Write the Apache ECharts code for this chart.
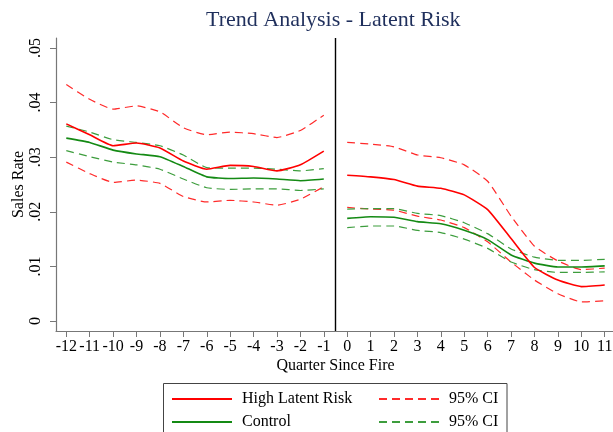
<!DOCTYPE html>
<html>
<head>
<meta charset="utf-8">
<script src="https://cdn.jsdelivr.net/npm/echarts@6/dist/echarts.min.js"></script>
<style>
  html, body { margin: 0; padding: 0; background: #fff; }
  #chart { width: 613px; height: 432px; }
</style>
</head>
<body>
<div id="chart"></div>
<script>
// quarters relative to the fire
const quartersPre = [-12, -11, -10, -9, -8, -7, -6, -5, -4, -3, -2, -1]
const quartersPost = [0, 1, 2, 3, 4, 5, 6, 7, 8, 9, 10, 11]
const xTicks = [-12, -11, -10, -9, -8, -7, -6, -5, -4, -3, -2, -1, 0, 1, 2, 3, 4, 5, 6, 7, 8, 9, 10, 11]
const yTicks = [0, 0.01, 0.02, 0.03, 0.04, 0.05]

// high latent risk: mean and 95% CI
const highPre = [0.0361, 0.0341, 0.0321, 0.0326, 0.0317, 0.0293, 0.0278, 0.0285, 0.0283, 0.0275, 0.0286, 0.0311]
const highPreUpper = [0.0433, 0.0406, 0.0388, 0.0394, 0.0383, 0.0354, 0.0341, 0.0346, 0.0343, 0.0336, 0.0349, 0.0377]
const highPreLower = [0.0291, 0.0270, 0.0254, 0.0258, 0.0252, 0.0228, 0.0218, 0.0221, 0.0218, 0.0212, 0.0223, 0.0246]
const highPost = [0.0267, 0.0264, 0.0259, 0.0247, 0.0243, 0.0231, 0.0204, 0.0151, 0.0098, 0.0075, 0.0063, 0.0066]
const highPostUpper = [0.0327, 0.0324, 0.0319, 0.0304, 0.0299, 0.0286, 0.0256, 0.0192, 0.0137, 0.0110, 0.0094, 0.0097]
const highPostLower = [0.0208, 0.0205, 0.0203, 0.0192, 0.0185, 0.0171, 0.0145, 0.0108, 0.0075, 0.0050, 0.0035, 0.0037]

// control: mean and 95% CI
const ctrlPre = [0.0335, 0.0327, 0.0313, 0.0306, 0.0301, 0.0283, 0.0264, 0.0261, 0.0262, 0.0260, 0.0257, 0.0260]
const ctrlPreUpper = [0.0357, 0.0346, 0.0332, 0.0327, 0.0321, 0.0304, 0.0281, 0.0280, 0.0280, 0.0278, 0.0275, 0.0279]
const ctrlPreLower = [0.0312, 0.0301, 0.0291, 0.0286, 0.0278, 0.0260, 0.0244, 0.0241, 0.0242, 0.0242, 0.0239, 0.0242]
const ctrlPost = [0.0188, 0.0191, 0.0190, 0.0182, 0.0178, 0.0166, 0.0149, 0.0121, 0.0106, 0.0099, 0.0099, 0.0101]
const ctrlPostUpper = [0.0205, 0.0206, 0.0206, 0.0197, 0.0193, 0.0180, 0.0160, 0.0132, 0.0117, 0.0111, 0.0111, 0.0113]
const ctrlPostLower = [0.0171, 0.0174, 0.0174, 0.0166, 0.0162, 0.0150, 0.0133, 0.0108, 0.0094, 0.0089, 0.0089, 0.0090]

const FONT = 'Liberation Serif'
const RED = '#ff0000'
const RED_CI = '#ff2a2a'
const GREEN = '#148a14'
const GREEN_CI = '#3d9d3d'

// pre and post parts joined, with a break at the fire
function joinParts(pre, post) {
  return quartersPre.map((q, i) => [q, pre[i]])
    .concat([[-0.5, '-']])
    .concat(quartersPost.map((q, i) => [q, post[i]]))
}

function lineSeries(name, pre, post, color, dashed, width) {
  return {
    name: name,
    type: 'line',
    data: joinParts(pre, post),
    symbol: 'none',
    smooth: 0.15,
    connectNulls: false,
    lineStyle: { color: color, width: width, type: dashed ? [8, 5] : 'solid' },
    itemStyle: { color: color },
    emphasis: { disabled: true }
  }
}

const chart = echarts.init(document.getElementById('chart'))

const series = [
  lineSeries('ciHigh', highPreUpper, highPostUpper, RED_CI, true, 1.2),
  lineSeries('ciHigh', highPreLower, highPostLower, RED_CI, true, 1.2),
  lineSeries('ciCtrl', ctrlPreUpper, ctrlPostUpper, GREEN_CI, true, 1.2),
  lineSeries('ciCtrl', ctrlPreLower, ctrlPostLower, GREEN_CI, true, 1.2),
  lineSeries('Control', ctrlPre, ctrlPost, GREEN, false, 1.6),
  lineSeries('High Latent Risk', highPre, highPost, RED, false, 1.6)
]

// vertical line at the fire
series[5].markLine = {
  silent: true,
  symbol: 'none',
  label: { show: false },
  lineStyle: { color: '#000', width: 1.4, type: 'solid' },
  data: [{ xAxis: -0.5 }]
}

const legendBase = {
  orient: 'vertical',
  top: 391,
  padding: 0,
  itemWidth: 60,
  itemHeight: 16,
  itemGap: 7,
  selectedMode: false,
  itemStyle: { opacity: 0, borderWidth: 0 },
  textStyle: { fontFamily: FONT, fontSize: 16, color: '#000', padding: [0, 0, 0, 5] }
}

chart.setOption({
  animation: false,
  backgroundColor: '#fff',
  title: {
    text: 'Trend Analysis - Latent Risk',
    left: 206,
    top: 9,
    padding: 0,
    textStyle: { fontFamily: FONT, fontSize: 22, fontWeight: 'normal', color: '#1f2f5c' }
  },
  grid: { left: 56, right: -2, top: 38, bottom: 101, containLabel: false, outerBoundsMode: 'none' },
  xAxis: {
    type: 'value',
    min: -12.44,
    max: 11.44,
    name: 'Quarter Since Fire',
    nameLocation: 'middle',
    nameGap: 27,
    nameMoveOverlap: false,
    nameTextStyle: { fontFamily: FONT, fontSize: 16, color: '#000' },
    axisLine: { show: true, onZero: false, lineStyle: { color: '#777', width: 1.2 } },
    axisTick: { show: true, length: 6, customValues: xTicks, lineStyle: { color: '#777' } },
    axisLabel: { customValues: xTicks, margin: 8, fontFamily: FONT, fontSize: 16, color: '#000' },
    splitLine: { show: false }
  },
  yAxis: {
    type: 'value',
    min: -0.00183,
    max: 0.05183,
    name: 'Sales Rate',
    nameLocation: 'middle',
    nameGap: 29,
    nameMoveOverlap: false,
    nameTextStyle: { fontFamily: FONT, fontSize: 16, color: '#000' },
    axisLine: { show: true, onZero: false, lineStyle: { color: '#777', width: 1.2 } },
    axisTick: { show: true, length: 6, customValues: yTicks, lineStyle: { color: '#777' } },
    axisLabel: {
      customValues: yTicks,
      rotate: 90,
      margin: 12,
      fontFamily: FONT,
      fontSize: 16,
      color: '#000',
      formatter: v => (Math.abs(v) < 1e-9 ? '0' : '.0' + Math.round(v * 100))
    },
    splitLine: { show: false }
  },
  legend: [
    Object.assign({}, legendBase, {
      data: ['High Latent Risk', 'Control'],
      left: 171
    }),
    Object.assign({}, legendBase, {
      data: ['ciHigh', 'ciCtrl'],
      left: 378,
      formatter: () => '95% CI'
    })
  ],
  graphic: [
    {
      type: 'rect',
      silent: true,
      shape: { x: 163.5, y: 383.5, width: 343.5, height: 60 },
      style: { fill: 'none', stroke: '#444', lineWidth: 1 }
    }
  ],
  series: series
})
</script>
</body>
</html>
